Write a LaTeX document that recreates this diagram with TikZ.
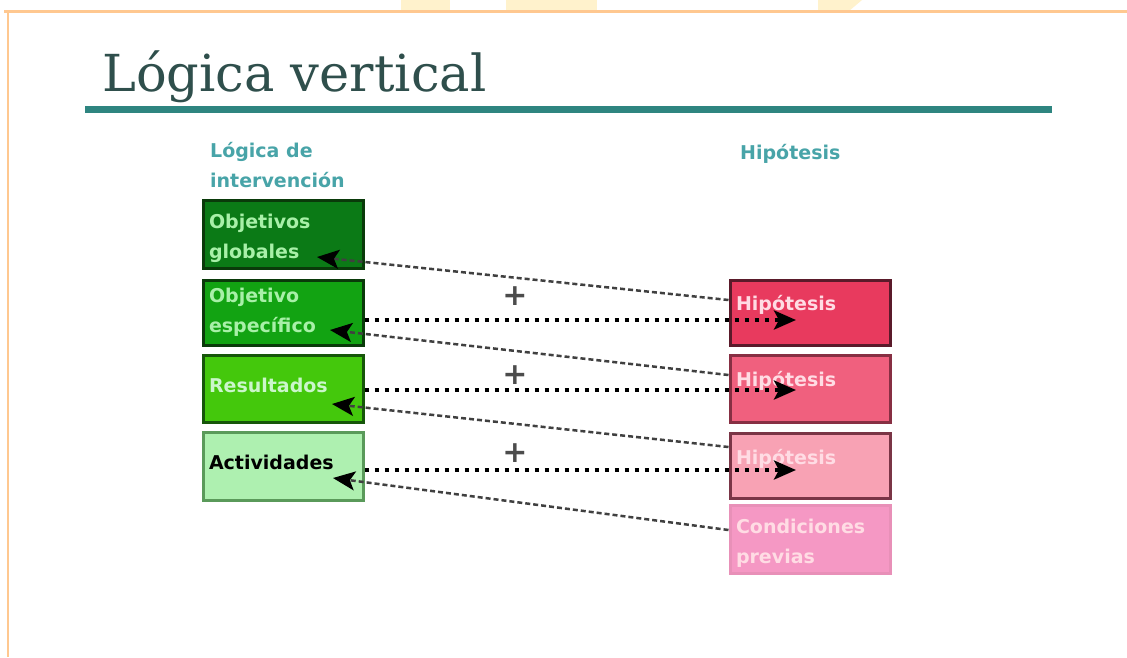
\documentclass[tikz,border=0pt]{standalone}
\usepackage{fontspec}
\setsansfont{DejaVu Sans}
\newfontfamily\titlefont{DejaVu Serif}
\usetikzlibrary{arrows.meta,calc}
\definecolor{orng}{HTML}{FFC890}
\definecolor{ylw}{HTML}{FFF2CC}
\definecolor{ttl}{HTML}{2F4F4C}
\definecolor{bar}{HTML}{2E8580}
\definecolor{hdr}{HTML}{48A4A8}
\definecolor{gA}{HTML}{0B7A16}
\definecolor{gB}{HTML}{12A312}
\definecolor{gC}{HTML}{44C80C}
\definecolor{gD}{HTML}{AEF0B0}
\definecolor{gAb}{HTML}{0A3A0A}
\definecolor{gDb}{HTML}{5A9A5A}
\definecolor{gtxt}{HTML}{A8F0A8}
\definecolor{rA}{HTML}{E83A5E}
\definecolor{rB}{HTML}{F0607E}
\definecolor{rC}{HTML}{F8A2B4}
\definecolor{rD}{HTML}{F598C4}
\definecolor{rAb}{HTML}{5A1A2A}
\definecolor{rDb}{HTML}{E890B8}
\definecolor{rtxt}{HTML}{FFDCE4}
\tikzset{
  box/.style={draw, line width=3pt, minimum width=160pt, text width=148pt, align=left,
    inner sep=0pt, font=\sffamily\bfseries\fontsize{19}{30}\selectfont},
  diag/.style={line width=2.5pt, draw=black!75, dash pattern=on 5pt off 3pt,
    -{Stealth[length=22pt,width=19pt,inset=5pt,black]}},
  horiz/.style={line width=4pt, draw=black, dash pattern=on 4pt off 6pt,
    -{Stealth[length=22pt,width=19pt,inset=5pt]}},
  plus/.style={font=\sffamily\bfseries\fontsize{30}{30}\selectfont, text=black!70},
  hdrtxt/.style={anchor=north west, inner sep=0pt, align=left, text=hdr,
    font=\sffamily\bfseries\fontsize{19}{30}\selectfont}
}
\begin{document}
\begin{tikzpicture}[x=1pt,y=-1pt]
\useasboundingbox (0,0) rectangle (1127,657);
\fill[white] (0,0) rectangle (1127,657);
% watermark remnants
\fill[ylw] (401,0) rectangle (450,11);
\fill[ylw] (506,0) rectangle (597,11);
\fill[ylw] (818,0) -- (862,0) -- (849,11) -- (818,11) -- cycle;
% frame
\draw[orng, line width=2.5pt] (4,11.5) -- (1127,11.5);
\draw[orng, line width=2.5pt] (8,11) -- (8,657);
% title
\node[anchor=base west, inner sep=0pt, text=ttl, font=\titlefont\fontsize{51}{51}\selectfont] (title) at (102,91) {Lógica vertical};
\fill[bar] (85,106) rectangle (1052,113);
% headers
\node[hdrtxt] (hL) at (210,142) {Lógica de\\intervención};
\node[hdrtxt] (hR) at (740,144) {Hipótesis};
% left boxes
\node[box, fill=gA, draw=gAb, text=gtxt, minimum height=68pt] (L1) at (283,234) {\rule{0pt}{23pt}Objetivos\\globales};
\node[box, fill=gB, draw=gAb, text=gtxt, minimum height=65pt] (L2) at (283,312.5) {Objetivo\\específico};
\node[box, fill=gC, draw=gAb!80!gC, text=gtxt!60!white, minimum height=67pt] (L3) at (283,388.5) {\raisebox{7pt}{Resultados}};
\node[box, fill=gD, draw=gDb, text=black, minimum height=68pt] (L4) at (283,466) {\raisebox{8pt}{Actividades}};
% right boxes
\node[box, fill=rA, draw=rAb, text=rtxt, minimum height=65pt] (R1) at (810,312.5) {\raisebox{19pt}{Hipótesis}};
\node[box, fill=rB, draw=rAb!70!rB, text=rtxt, minimum height=67pt] (R2) at (810,388.5) {\raisebox{19pt}{Hipótesis}};
\node[box, fill=rC, draw=rAb!80!rC, text=rtxt, minimum height=65pt] (R3) at (810,465.5) {\raisebox{18pt}{Hipótesis}};
\node[box, fill=rD, draw=rDb, text=rtxt, minimum height=68pt] (R4) at (810,539) {\rule{0pt}{22pt}Condiciones\\previas};
% arrow end points inside the boxes
\coordinate (t1) at (317,257);
\coordinate (t2) at (330,330);
\coordinate (t3) at (332,404);
\coordinate (t4) at (333,478);
\coordinate (h1) at (796,320);
\coordinate (h2) at (796,390);
\coordinate (h3) at (796,470);
% diagonal dashed connectors
\draw[diag] (R1.west |- 0,300) -- (t1);
\draw[diag] (R2.west |- 0,375) -- (t2);
\draw[diag] (R3.west |- 0,447) -- (t3);
\draw[diag] (R4.west |- 0,530) -- (t4);
% horizontal dotted connectors
\draw[horiz] (L2.east |- h1) -- (h1);
\draw[horiz] (L3.east |- h2) -- (h2);
\draw[horiz] (L4.east |- h3) -- (h3);
% plus signs
\node[plus] (p1) at (515,296) {+};
\node[plus] (p2) at (515,375) {+};
\node[plus] (p3) at (515,453) {+};
\end{tikzpicture}
\end{document}
